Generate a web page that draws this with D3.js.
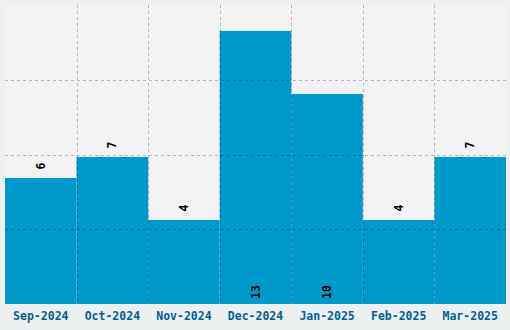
<!DOCTYPE html>
<html>
<head>
<meta charset="utf-8">
<script src="https://cdn.jsdelivr.net/npm/d3@7"></script>
<style>
  body { margin: 0; background: #edf0f1; }
  svg { display: block; }
</style>
</head>
<body>
<script>
var months = ["Sep-2024", "Oct-2024", "Nov-2024", "Dec-2024", "Jan-2025", "Feb-2025", "Mar-2025"];
var counts = [6, 7, 4, 13, 10, 4, 7];

var size = { width: 510, height: 330 };
var margin = { top: 5, right: 4, bottom: 26, left: 5 };
var w = size.width - margin.left - margin.right;
var h = size.height - margin.top - margin.bottom;

var svg = d3.select("body").append("svg")
  .attr("width", size.width)
  .attr("height", size.height)
  .style("background-color", "#edf0f1");

var g = svg.append("g")
  .attr("transform", "translate(" + margin.left + "," + margin.top + ")");

var x = d3.scaleBand().domain(months).range([0, w]).padding(0);
var yMax = d3.max(counts) * 1.095;
var y = d3.scaleLinear().domain([0, yMax]).range([h, 0]);

g.append("rect")
  .attr("width", w).attr("height", h)
  .attr("fill", "#f2f2f2");

var data = months.map(function(m, i) { return { m: m, v: counts[i] }; });

g.selectAll("rect.bar")
  .data(data)
  .enter()
  .append("rect")
  .attr("class", "bar")
  .attr("x", function(d) { return x(d.m); })
  .attr("y", function(d) { return y(d.v); })
  .attr("width", x.bandwidth())
  .attr("height", function(d) { return h - y(d.v); })
  .attr("fill", "#0099cc");

// grid on top of bars
var grid = g.append("g")
  .attr("stroke", "rgba(0,0,0,0.25)")
  .attr("stroke-dasharray", "3,3")
  .attr("fill", "none");

months.slice(1).forEach(function(m) {
  grid.append("line")
    .attr("x1", Math.round(x(m)) + 0.5).attr("x2", Math.round(x(m)) + 0.5)
    .attr("y1", 0).attr("y2", h);
});
[1, 2, 3].forEach(function(k) {
  var yy = Math.round(h * k / 4) + 0.5;
  grid.append("line")
    .attr("x1", 0).attr("x2", w)
    .attr("y1", yy).attr("y2", yy);
});

// value labels
g.selectAll("text.val")
  .data(data)
  .enter()
  .append("text")
  .attr("class", "val")
  .attr("transform", function(d) {
    var cx = x(d.m) + x.bandwidth() / 2;
    var inside = d.v > yMax * 0.6;
    var ty = inside ? h - 5 : y(d.v) - 8.5;
    return "translate(" + cx + "," + ty + ") rotate(-90)";
  })
  .attr("dy", "0.35em")
  .attr("text-anchor", "start")
  .style("font-family", "DejaVu Sans Mono, monospace")
  .style("font-weight", "bold")
  .style("font-size", "11.5px")
  .attr("fill", "#000")
  .text(function(d) { return d.v; });

// x axis labels
var xAxis = g.append("g")
  .attr("transform", "translate(0," + h + ")")
  .call(d3.axisBottom(x).tickSize(0).tickPadding(8));
xAxis.select(".domain").remove();
xAxis.selectAll("text")
  .style("font-family", "DejaVu Sans Mono, monospace")
  .style("font-weight", "bold")
  .style("font-size", "11.5px")
  .attr("fill", "#005f96");
</script>
</body>
</html>
